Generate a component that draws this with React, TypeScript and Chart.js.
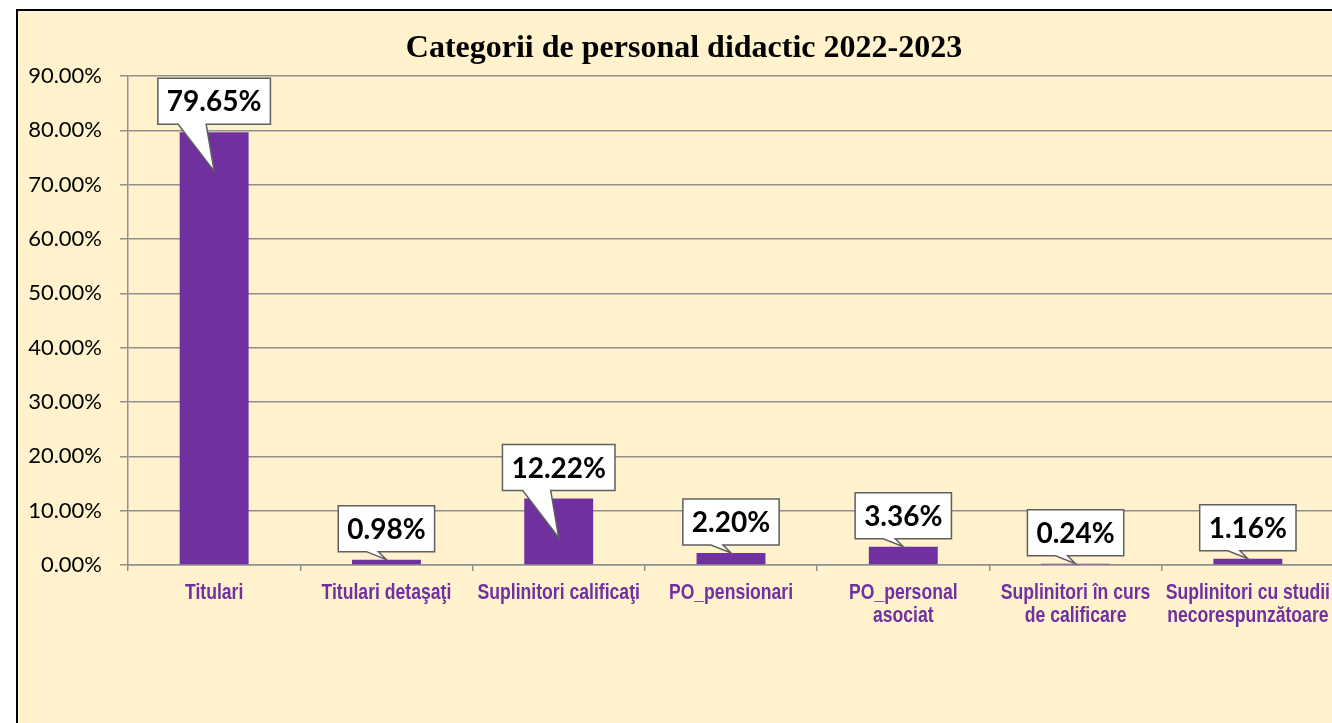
import React, { useEffect, useRef } from "react";
import { Chart, registerables } from "chart.js";

Chart.register(...registerables);

const categories: (string | string[])[] = [
  "Titulari",
  "Titulari detaşaţi",
  "Suplinitori calificaţi",
  "PO_pensionari",
  ["PO_personal", "asociat"],
  ["Suplinitori în curs", "de calificare"],
  ["Suplinitori cu studii", "necorespunzătoare"],
];
const values: number[] = [79.65, 0.98, 12.22, 2.2, 3.36, 0.24, 1.16];
const titleText = "Categorii de personal didactic 2022-2023";
const yTicks: number[] = [0, 10, 20, 30, 40, 50, 60, 70, 80, 90];

const PURPLE = "#7030A0";
const BG = "#FFF2CC";
const GRID = "#8f8f8f";

// Chart title centred on the whole chart box
const titlePlugin = {
  id: "centerTitle",
  afterDraw(chart: any) {
    const ctx = chart.ctx;
    ctx.save();
    ctx.font = "bold 32px 'Liberation Serif', 'Times New Roman', serif";
    ctx.fillStyle = "#000000";
    ctx.textAlign = "center";
    ctx.textBaseline = "middle";
    ctx.fillText(titleText, chart.width / 2, 38);
    ctx.restore();
  },
};

// Category labels drawn in a condensed bold sans (horizontally compressed)
const xLabelPlugin = {
  id: "xlabels",
  afterDraw(chart: any) {
    const ctx = chart.ctx;
    const xs = chart.scales.x;
    const axisY = chart.chartArea.bottom;
    const squeeze = 0.8;
    ctx.save();
    ctx.font = "bold 22px 'Liberation Sans', Arial, sans-serif";
    ctx.fillStyle = PURPLE;
    ctx.textAlign = "center";
    ctx.textBaseline = "alphabetic";
    categories.forEach((c, i) => {
      const lines = Array.isArray(c) ? c : [c];
      const cx = xs.getPixelForValue(i);
      lines.forEach((ln, j) => {
        ctx.save();
        ctx.translate(cx, axisY + 34 + j * 23);
        ctx.scale(squeeze, 1);
        ctx.fillText(ln, 0, 0);
        ctx.restore();
      });
    });
    ctx.restore();
  },
};

const calloutPlugin = {
  id: "callouts",
  afterDatasetsDraw(chart: any) {
    const ctx = chart.ctx;
    const meta = chart.getDatasetMeta(0);
    ctx.save();
    ctx.font = "bold 28px Lato";
    meta.data.forEach((bar: any, i: number) => {
      const label = values[i].toFixed(2) + "%";
      const cx = bar.x;
      const top = bar.y;
      const base = bar.base;
      const tw = ctx.measureText(label).width;
      const bw = tw + 18;
      const bh = 46;
      const bx = cx - bw / 2;
      const bb = top - 8;
      const by = bb - bh;
      const tipY = base - top > 40 ? top + 39 : top;
      const gap = tipY - bb;
      const leftOff = 8 + Math.max(12, Math.min(28, gap * 0.6));
      ctx.beginPath();
      ctx.moveTo(bx, by);
      ctx.lineTo(bx + bw, by);
      ctx.lineTo(bx + bw, bb);
      ctx.lineTo(cx - 8, bb);
      ctx.lineTo(cx, tipY);
      ctx.lineTo(cx - leftOff, bb);
      ctx.lineTo(bx, bb);
      ctx.closePath();
      ctx.fillStyle = "#ffffff";
      ctx.fill();
      ctx.lineWidth = 1.5;
      ctx.strokeStyle = "#5f5f5f";
      ctx.stroke();
      ctx.fillStyle = "#000000";
      ctx.textAlign = "center";
      ctx.textBaseline = "middle";
      ctx.fillText(label, cx, by + bh / 2 + 1);
    });
    ctx.restore();
  },
};

export default function App() {
  const ref = useRef<HTMLCanvasElement | null>(null);
  useEffect(() => {
    if (!ref.current) return;
    const chart = new Chart(ref.current, {
      type: "bar",
      data: {
        labels: categories,
        datasets: [
          {
            data: values,
            backgroundColor: PURPLE,
            borderWidth: 0,
            barPercentage: 0.4,
            categoryPercentage: 1,
          },
        ],
      },
      options: {
        responsive: false,
        animation: false,
        devicePixelRatio: 1,
        layout: { padding: { left: 0, right: 16, top: 65, bottom: 0 } },
        plugins: {
          legend: { display: false },
          tooltip: { enabled: false },
          title: { display: false },
        },
        scales: {
          x: {
            grid: {
              drawOnChartArea: false,
              drawTicks: true,
              tickLength: 6,
              color: GRID,
              lineWidth: 1.5,
              offset: true,
            },
            border: { display: true, color: GRID, width: 1.5 },
            ticks: { display: false },
            afterFit: (s: any) => {
              s.height = 158;
            },
          },
          y: {
            min: 0,
            max: 90,
            afterBuildTicks: (s: any) => {
              s.ticks = yTicks.map((v) => ({ value: v }));
            },
            grid: { color: GRID, lineWidth: 1.5, tickLength: 8, drawTicks: true },
            border: { display: true, color: GRID, width: 1.5 },
            ticks: {
              color: "#000000",
              padding: 18,
              font: { family: "Lato", size: 22 },
              callback: (v: any) => Number(v).toFixed(2) + "%",
            },
            afterFit: (s: any) => {
              s.width = 110;
            },
          },
        },
      },
      plugins: [calloutPlugin, xLabelPlugin, titlePlugin],
    });
    return () => chart.destroy();
  }, []);

  return (
    <div style={{ position: "fixed", left: 0, top: 0, width: "100vw", height: "100vh", overflow: "hidden", background: "#ffffff" }}>
      <div
        style={{
          position: "absolute",
          left: 16,
          top: 9,
          width: 1332,
          height: 712,
          background: BG,
          borderLeft: "2px solid #000",
          borderTop: "2px solid #000",
          borderRight: "2px solid #000",
        }}
      >
        <canvas ref={ref} width={1332} height={712} style={{ display: "block", width: 1332, height: 712 }} />
      </div>
    </div>
  );
}
